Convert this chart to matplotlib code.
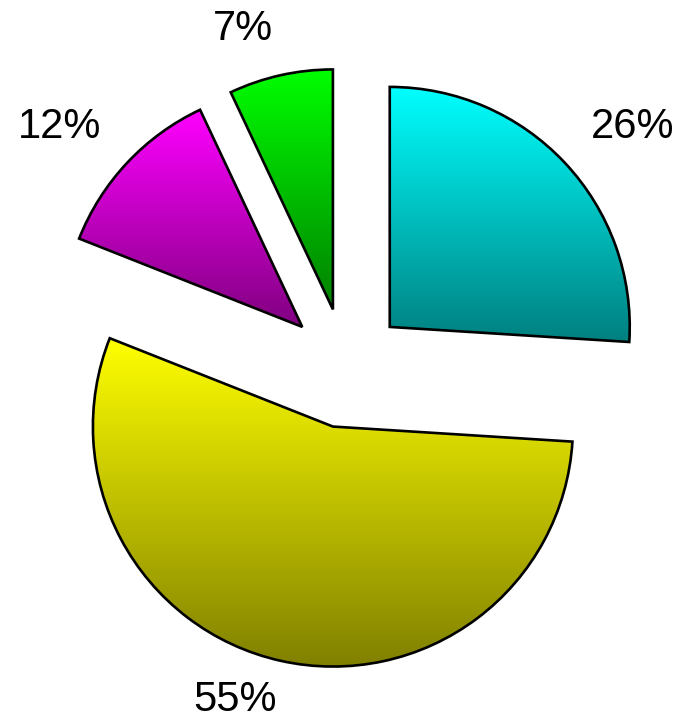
import matplotlib
matplotlib.use("Agg")
import matplotlib.pyplot as plt
import numpy as np
from matplotlib.colors import LinearSegmentedColormap

plt.rcParams['font.family'] = ['Liberation Sans', 'DejaVu Sans']

valores = [26, 55, 12, 7]
cores_topo = ['#00ffff', '#ffff00', '#ff00ff', '#00ff00']
cores_base = ['#008080', '#808000', '#800080', '#008000']

fig = plt.figure(figsize=(6.79, 7.25), dpi=100)
ax = fig.add_axes([0, 0, 1, 1])

wedges, textos, autotextos = ax.pie(
    valores, startangle=90, counterclock=False,
    explode=[0.25] * len(valores),
    autopct='%1.0f%%', pctdistance=1.2,
    wedgeprops=dict(edgecolor='black', linewidth=1.9),
    textprops=dict(fontsize=30, color='black'),
)

# rotulos ancorados pelo canto voltado para a pizza
for w, t in zip(wedges, autotextos):
    ang = np.deg2rad((w.theta1 + w.theta2) / 2)
    c, s = np.cos(ang), np.sin(ang)
    d = 1.15 if s > 0 else 1.08
    cx, cy = w.center
    t.set_position((cx + w.r * d * c, cy + w.r * d * s))
    t.set_ha('left' if c > 0 else 'right')
    t.set_va('baseline' if s > 0 else 'top')

# preenchimento em degrade vertical para cada fatia
grad = np.linspace(0, 1, 256).reshape(-1, 1)
for w, topo, base in zip(wedges, cores_topo, cores_base):
    x0, y0, x1, y1 = w.get_path().get_extents().extents
    cmap = LinearSegmentedColormap.from_list('g', [base, topo])
    im = ax.imshow(grad, extent=[x0, x1, y0, y1], origin='lower', cmap=cmap,
                   aspect='auto', interpolation='bicubic', zorder=1)
    im.set_clip_path(w)
    w.set_facecolor('none')
    w.set_zorder(2)

# escala: raio 240 px, centro em (346, 368) px
px = 240
ax.set_xlim(-346 / px, (679 - 346) / px)
ax.set_ylim(-(725 - 368) / px, 368 / px)
ax.set_aspect('equal')
ax.axis('off')

fig.savefig('out.png', dpi=100)
